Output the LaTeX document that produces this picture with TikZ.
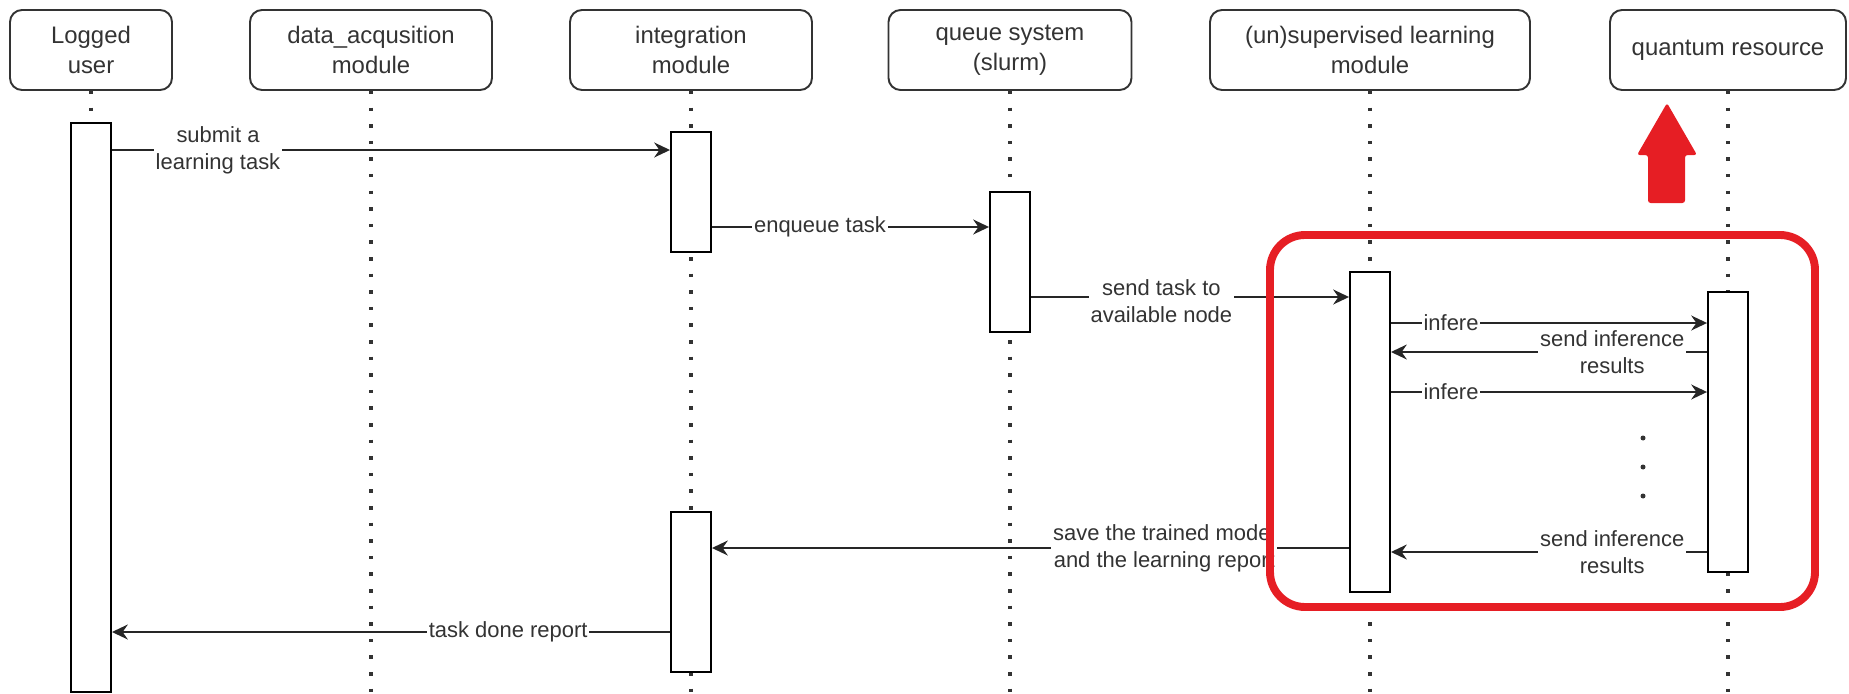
\documentclass[tikz,border=0pt]{standalone}
\usepackage{fontspec}
\setmainfont{Liberation Sans}
\usetikzlibrary{arrows.meta}

\definecolor{inkgray}{RGB}{51,51,51}
\definecolor{alertred}{RGB}{230,30,36}
\newcommand{\px}{0.02cm}
\newcommand{\headfont}{\fontsize{13.6}{17}\selectfont}
\newcommand{\lblfont}{\fontsize{12.5}{15.5}\selectfont}

\tikzset{
    head/.style={draw=inkgray, line width=1.1pt, rounded corners=0.24cm,
        minimum height=80*\px, align=center, text=inkgray, font=\headfont},
    lifeline/.style={draw=inkgray, line width=2pt, dash pattern=on 2pt off 7.45pt},
    bar/.style={draw=black, fill=white, line width=1.1pt, minimum width=40*\px, inner sep=0pt},
    msg/.style={draw=black!85, line width=1.1pt, -{Stealth[length=9pt,width=8.5pt]}},
    lbl/.style={fill=white, inner sep=1pt, align=center, text=inkgray, font=\lblfont}
}

\begin{document}
\begin{tikzpicture}[x=0.02cm, y=-0.02cm]
    \useasboundingbox (0,0) rectangle (1849,693);

    % participants
    \node[head, minimum width=162*\px] (user) at (91,50) {Logged\\user};
    \node[head, minimum width=242*\px] (data) at (371,50) {data\_acqusition\\module};
    \node[head, minimum width=242*\px] (integ) at (691,50) {integration\\module};
    \node[head, minimum width=243*\px] (queue) at (1010,50) {queue system\\(slurm)};
    \node[head, minimum width=320*\px] (superv) at (1370,50) {(un)supervised learning\\module};
    \node[head, minimum width=236*\px] (quant) at (1728,50) {quantum resource};

    \coordinate (bottom) at (0,693);
    \foreach \n in {user,data,integ,queue,superv,quant}
        \draw[lifeline] (\n.south) -- (\n.south |- bottom);

    % activations
    \node[bar, minimum height=569*\px] (userbar) at (91,407.5) {};
    \node[bar, minimum height=120*\px] (intbarA) at (691,192) {};
    \node[bar, minimum height=140*\px] (queuebar) at (1010,262) {};
    \node[bar, minimum height=320*\px] (supbar) at (1370,432) {};
    \node[bar, minimum height=280*\px] (qbar) at (1728,432) {};
    \node[bar, minimum height=160*\px] (intbarB) at (691,592) {};

    % messages
    \coordinate (m1) at (0,150);
    \coordinate (m2) at (0,227);
    \coordinate (m3) at (0,297);
    \coordinate (m4) at (0,323);
    \coordinate (m5) at (0,352);
    \coordinate (m6) at (0,392);
    \coordinate (m7) at (0,552);
    \coordinate (m8) at (0,548);
    \coordinate (m9) at (0,632);

    \draw[msg] (userbar.east |- m1) -- node[lbl, pos=.19] {submit a\\learning task} (intbarA.west |- m1);
    \draw[msg] (intbarA.east |- m2) -- node[lbl, pos=.39] {enqueue task} (queuebar.west |- m2);
    \draw[msg] (queuebar.east |- m3) -- node[lbl, pos=.41, yshift=-4*\px] {send task to\\available node} (supbar.west |- m3);
    \draw[msg] (supbar.east |- m4) -- node[lbl, pos=.19] {infere} (qbar.west |- m4);
    \draw[msg] (qbar.west |- m5) -- node[lbl, pos=.3] {send inference\\results} (supbar.east |- m5);
    \draw[msg] (supbar.east |- m6) -- node[lbl, pos=.19] {infere} (qbar.west |- m6);
    \draw[msg] (qbar.west |- m7) -- node[lbl, pos=.3] {send inference\\results} (supbar.east |- m7);
    \draw[msg] (supbar.west |- m8) -- node[lbl, pos=.29] {save the trained model\\and the learning report} (intbarB.east |- m8);
    \draw[msg] (intbarB.west |- m9) -- node[lbl, pos=.29] {task done report} (userbar.east |- m9);

    \foreach \y in {438,467,496}
        \fill[inkgray] (1643,\y) circle (0.05cm);

    % highlight
    \draw[alertred, line width=4.5pt, rounded corners=0.7cm] (1270,235) rectangle (1815,607);
    \fill[alertred, rounded corners=1.5pt] (1648,203) -- (1648,155) -- (1637,155) -- (1667,103)
        -- (1697,155) -- (1685,155) -- (1685,203) -- cycle;
\end{tikzpicture}
\end{document}
